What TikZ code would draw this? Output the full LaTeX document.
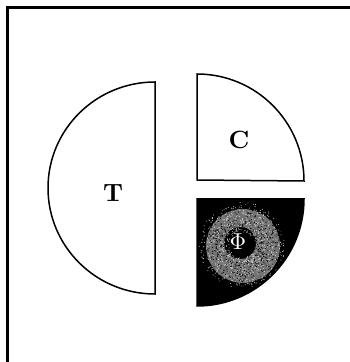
\documentclass[tikz,border=0pt]{standalone}
\usepackage{fontspec}
\setmainfont{Latin Modern Roman}
\usepackage{tikz}
\begin{document}
\begin{tikzpicture}[x=1pt,y=1pt,
  frameline/.style={line width=2.4pt},
  piece/.style={draw=black,line width=1.5pt,fill=white},
  lab/.style={font=\bfseries, scale=2.5}]
\useasboundingbox (0,0) rectangle (350,362);
% frame
\coordinate (ftop) at (350,354.5);
\coordinate (fcorner) at (7.5,354.5);
\coordinate (fbot) at (7.5,0);
\draw[frameline] (ftop) -- (fcorner) -- (fbot);
% T half disc
\draw[piece] (155,280) arc[start angle=90,end angle=270,x radius=107,y radius=106] -- cycle;
\node[lab] (T) at (113,169) {T};
% C quadrant
\draw[piece] (197,182) -- (197,288) arc[start angle=90,end angle=0,radius=107] -- cycle;
\node[lab] (C) at (239,222) {C};
% Phi quadrant
\begin{scope}
\clip (197,163) -- (304,163) arc[start angle=0,end angle=-90,radius=107] -- cycle;
\fill[black] (190,50) rectangle (310,170);
\fill[black!55,even odd rule] (243,116) circle (37) (240,119) circle (16);
\pgfmathsetseed{7}
\foreach \i in {1,...,900}{
  \pgfmathsetmacro\rr{13+rnd*30}
  \pgfmathsetmacro\aa{rnd*360}
  \fill[white!85!black] ([shift={(242,117)}]\aa:\rr) circle (0.5);
}
\foreach \i in {1,...,700}{
  \pgfmathsetmacro\rr{13+rnd*30}
  \pgfmathsetmacro\aa{rnd*360}
  \fill[black] ([shift={(242,117)}]\aa:\rr) circle (0.55);
}
\end{scope}
\draw[line width=1.5pt] (197,163) -- (304,163) arc[start angle=0,end angle=-90,radius=107] -- cycle;
\node[text=white,scale=2.3] (P) at (238,120) {$\Phi$};
\end{tikzpicture}
\end{document}
